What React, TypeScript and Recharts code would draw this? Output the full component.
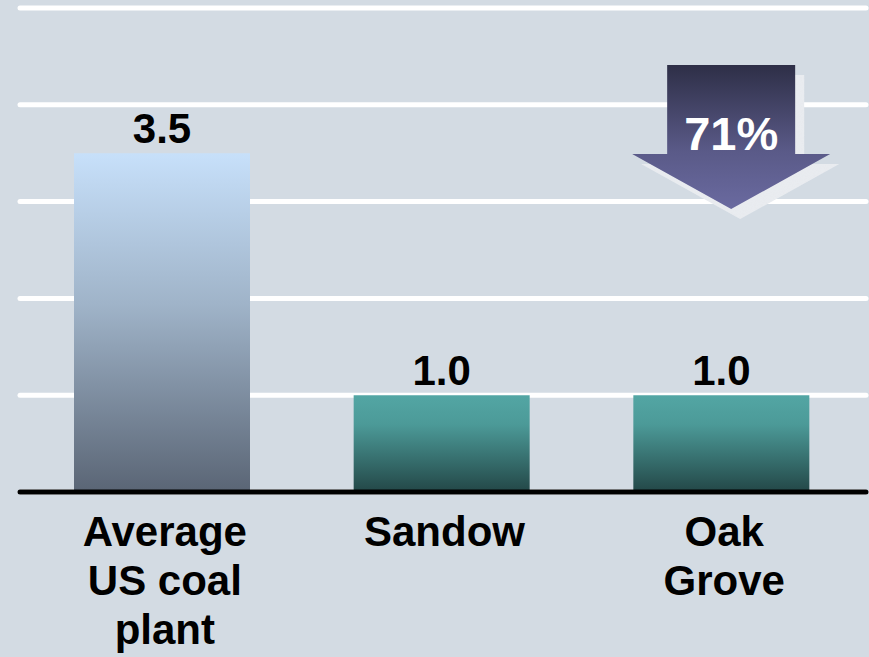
import React from 'react';
import { BarChart, Bar, XAxis, YAxis, CartesianGrid, Cell, LabelList, ReferenceDot } from 'recharts';

const categories = ['Average US coal plant', 'Sandow', 'Oak Grove'];
const tickLines = [['Average', 'US coal', 'plant'], ['Sandow'], ['Oak', 'Grove']];
const values = [3.5, 1.0, 1.0];
const yTicks = [0, 1, 2, 3, 4, 5];
const reductionLabel = '71%';
const reductionCategory = 'Oak Grove';
const arrowTopValue = 4.41;

const barFills = ['url(#gradCoal)', 'url(#gradTeal)', 'url(#gradTeal)'];
const FONT = 'Arial, "Liberation Sans", Helvetica, sans-serif';

const data = categories.map((c, i) => ({ name: c, value: values[i] }));

const Tick = (props: any) => {
  const { x, y, payload } = props;
  const idx = categories.indexOf(payload.value);
  const lines = idx >= 0 ? tickLines[idx] : [String(payload.value)];
  return (
    <text x={x} y={y} textAnchor="middle" fontFamily={FONT} fontWeight="bold" fontSize={42} fill="#000">
      {lines.map((l, i) => (
        <tspan key={i} x={x + 3} y={y + 54 + i * 49}>
          {l}
        </tspan>
      ))}
    </text>
  );
};

const Arrow = (props: any) => {
  const { cx, cy } = props;
  if (cx == null || cy == null) return null;
  const x = cx + 10;
  const top = cy;
  const bw = 64;
  const hw = 99;
  const bodyH = 89;
  const tipH = 144;
  const pts = (dx: number, dy: number) =>
    [
      [x - bw, top],
      [x + bw, top],
      [x + bw, top + bodyH],
      [x + hw, top + bodyH],
      [x, top + tipH],
      [x - hw, top + bodyH],
      [x - bw, top + bodyH],
    ]
      .map(([px, py]) => `${px + dx},${py + dy}`)
      .join(' ');
  return (
    <g>
      <polygon points={pts(9, 10)} fill="#e9ecf0" />
      <polygon points={pts(9, 10)} fill="#c9cdd4" filter="url(#speckle)" opacity={0.7} />
      <polygon points={pts(0, 0)} fill="url(#gradArrow)" />
      <text x={x} y={top + 85} textAnchor="middle" fontFamily={FONT} fontWeight="bold" fontSize={47} fill="#fff">
        {reductionLabel}
      </text>
    </g>
  );
};

export default function App() {
  return (
    <div style={{ position: 'absolute', left: 0, top: 0, width: 869, height: 657, background: '#d3dbe3' }}>
      <BarChart
        width={869}
        height={657}
        data={data}
        margin={{ top: 8, right: 3, left: 20, bottom: 0 }}
        barSize={176}
      >
        <defs>
          <linearGradient id="gradCoal" x1="0" y1="0" x2="0" y2="1">
            <stop offset="0%" stopColor="#c7e0fa" />
            <stop offset="45%" stopColor="#9fb3c8" />
            <stop offset="100%" stopColor="#5a6575" />
          </linearGradient>
          <linearGradient id="gradTeal" x1="0" y1="0" x2="0" y2="1">
            <stop offset="0%" stopColor="#53a6a4" />
            <stop offset="30%" stopColor="#4c9a98" />
            <stop offset="100%" stopColor="#234747" />
          </linearGradient>
          <linearGradient id="gradArrow" x1="0" y1="0" x2="0" y2="1">
            <stop offset="0%" stopColor="#2e2f47" />
            <stop offset="60%" stopColor="#5a5a88" />
            <stop offset="100%" stopColor="#6a6aa0" />
          </linearGradient>
          <filter id="speckle" x="0" y="0" width="1" height="1">
            <feTurbulence type="fractalNoise" baseFrequency="0.9" numOctaves="2" result="noise" />
            <feColorMatrix
              in="noise"
              type="matrix"
              values="0 0 0 0 0.8  0 0 0 0 0.81  0 0 0 0 0.84  0 0 0 -2 1.2"
              result="speck"
            />
            <feComposite in="speck" in2="SourceGraphic" operator="in" />
          </filter>
        </defs>
        <CartesianGrid vertical={false} stroke="#ffffff" strokeWidth={5} strokeLinecap="round" />
        <YAxis hide domain={[0, 5]} ticks={yTicks} />
        <XAxis
          dataKey="name"
          height={165}
          padding={{ left: 2, right: 5 }}
          axisLine={{ stroke: '#000', strokeWidth: 5, strokeLinecap: 'round' }}
          tickLine={false}
          tickSize={0}
          tickMargin={0}
          tick={<Tick />}
          interval={0}
        />
        <Bar dataKey="value" isAnimationActive={false}>
          {data.map((d, i) => (
            <Cell key={d.name} fill={barFills[i]} />
          ))}
          <LabelList
            dataKey="value"
            position="top"
            offset={10}
            formatter={(v: any) => Number(v).toFixed(1)}
            fill="#000"
            style={{ fontSize: 42, fontWeight: 'bold', fontFamily: FONT, fill: '#000' }}
          />
        </Bar>
        <ReferenceDot x={reductionCategory} y={arrowTopValue} shape={<Arrow />} ifOverflow="visible" />
      </BarChart>
    </div>
  );
}
